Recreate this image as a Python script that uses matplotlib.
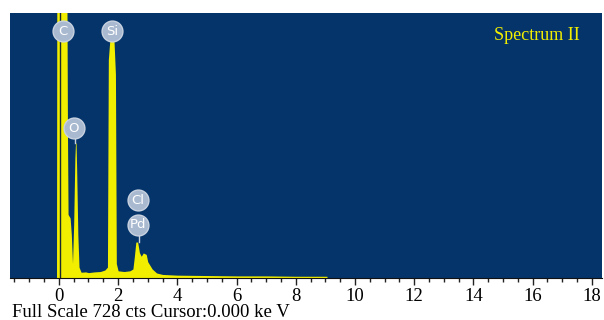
import matplotlib.pyplot as plt
from matplotlib.ticker import MultipleLocator

energy = [-1.65, -0.08, -0.07, 0.27, 0.29, 0.31, 0.38, 0.42, 0.46, 0.5, 0.54,
          0.56, 0.58, 0.6, 0.64, 0.68, 0.75, 0.9, 1.0, 1.2, 1.4, 1.55, 1.64,
          1.67, 1.72, 1.86, 1.91, 1.94, 2.0, 2.2, 2.4, 2.5, 2.55, 2.6, 2.66,
          2.72, 2.78, 2.85, 2.95, 3.0, 3.15, 3.3, 3.5, 4.0, 5.0, 6.0, 7.0, 8.0,
          9.0, 9.05, 9.06, 18.4]
counts = [0, 0, 800, 800, 400, 175, 165, 120, 40, 150, 330,
          371, 371, 300, 120, 30, 16, 17, 15, 17, 18, 22, 30,
          600, 654, 654, 560, 40, 20, 18, 20, 25, 60, 99, 99,
          70, 60, 69, 65, 45, 25, 14, 10, 8, 7, 6, 6, 5,
          5, 5, 0, 0]

labels = ['C', 'Si', 'O', 'Cl', 'Pd']
label_x = [0.14, 1.79, 0.51, 2.67, 2.67]
label_y = [678, 678, 412, 214, 146]
stem_top = [0, 0, 390, 0, 128]
stem_bottom = [0, 0, 371, 0, 99]

fig = plt.figure(figsize=(6.04, 3.2), dpi=100)
ax = fig.add_axes([0.0166, 0.131, 0.98, 0.828])
ax.set_facecolor('#05346a')

ax.fill_between(energy, counts, 0, color='#f2ee00', linewidth=0)
ax.axvline(0.05, color='#1a2a30', linewidth=1)

# short stems from label to peak
for x, y0, y1 in zip(label_x, stem_bottom, stem_top):
    if y1 > 0:
        ax.plot([x + 0.03, x + 0.03], [y0, y1], color='#c8d2e0', linewidth=1)

for name, x, y in zip(labels, label_x, label_y):
    ax.plot(x, y, 'o', markersize=15, color='#a9b9d0', markeredgecolor='#c8d2e0')
    ax.text(x, y, name, color='white', ha='center', va='center',
            fontsize=9.5, family='DejaVu Sans')

ax.text(0.963, 0.917, 'Spectrum II', transform=ax.transAxes, color='#f2ee00',
        ha='right', va='center', fontsize=13, family='Liberation Serif')

ax.set_xlim(-1.65, 18.34)
ax.set_ylim(0, 728)
ax.xaxis.set_major_locator(MultipleLocator(2))
ax.xaxis.set_minor_locator(MultipleLocator(0.5))
ax.set_yticks([])
for s in ['top', 'left', 'right']:
    ax.spines[s].set_visible(False)
ax.spines['bottom'].set_color('#111111')
ax.tick_params(axis='x', which='major', length=5, width=1, color='#222222',
               labelsize=13.5, pad=2)
ax.tick_params(axis='x', which='minor', length=3, width=1, color='#222222')
for lab in ax.get_xticklabels():
    lab.set_family('Liberation Serif')

fig.text(0.02, 0.022, 'Full Scale 728 cts Cursor:0.000 ke V', fontsize=13.5,
         family='Liberation Serif', va='center')

fig.savefig('out.png')
